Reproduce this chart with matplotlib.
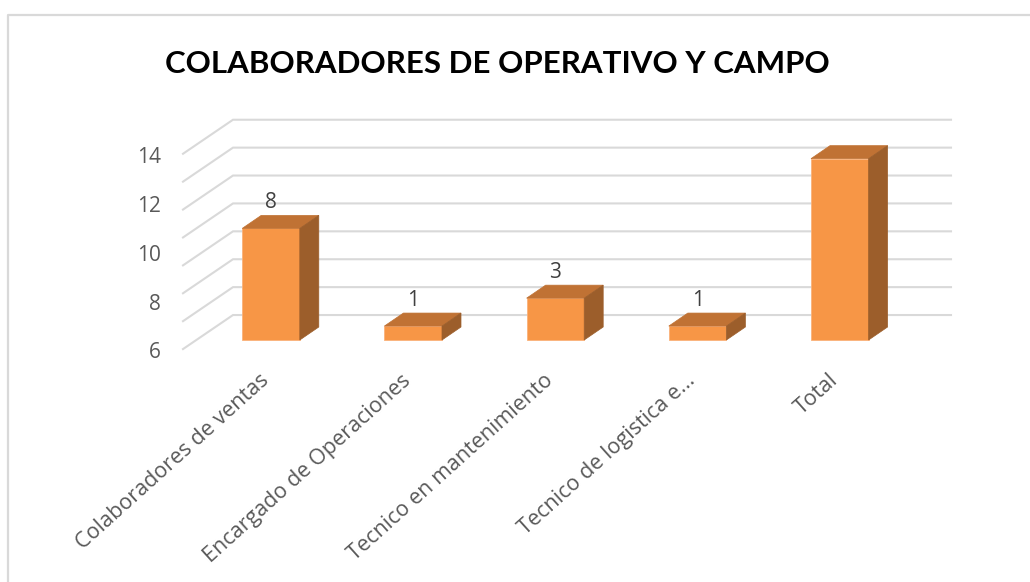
import matplotlib
matplotlib.use("Agg")
import matplotlib.pyplot as plt
from matplotlib.patches import Polygon

categories = ["Colaboradores de ventas", "Encargado de Operaciones",
              "Tecnico en mantenimiento", "Tecnico de logistica e...", "Total"]
values = [8, 1, 3, 1, 13]
shown_labels = ["8", "1", "3", "1", None]
tick_labels = [6, 8, 10, 12, 14]
grid_values = [0, 2, 4, 6, 8, 10, 12, 14]
title = "COLABORADORES DE OPERATIVO Y CAMPO"
caption = "Figura 8. Colaboradores de operativo y campo"

# pixel layout of the picture (x per category, y per unit)
W, H = 1030, 582
X0, XS = 271.0, 142.2      # px of first bar centre, px per category
Y0, YS = 340.0, 13.95      # px of bar base, px per unit


def px_x(p):
    return (p - X0) / XS


def px_y(p):
    return (Y0 - p) / YS


front = "#F79646"
top_c = "#C07234"
side_c = "#9C5E2B"
grid_c = "#D9D9D9"
txt_c = "#595959"

fig = plt.figure(figsize=(W / 100, H / 100), dpi=100)
ax = fig.add_axes([0, 0, 1, 1])
ax.set_xlim(px_x(0), px_x(W))
ax.set_ylim(px_y(H), px_y(0))
ax.axis("off")

# chart frame
ax.plot([px_x(8), px_x(8), px_x(W)], [px_y(H), px_y(15), px_y(15)],
        color="#D9D9D9", lw=1.6, solid_capstyle="butt")

# caption of the document, cut at the top of the picture (only descenders show)
ax.text(px_x(18), px_y(-5.5), caption, fontsize=21.5, family="Liberation Serif",
        fontweight="bold", ha="left", va="baseline", color="black")

# gridlines: floor diagonal + back wall
gx_front, gx_back, gx_end = px_x(183), px_x(233), px_x(951)
off_front, off_back = -0.65, 1.79
for g in grid_values:
    ax.plot([gx_front, gx_back, gx_end], [g + off_front, g + off_back, g + off_back],
            color=grid_c, lw=1.5, zorder=1, solid_joinstyle="miter")

# y tick labels (as placed in the picture)
for t in tick_labels:
    ax.text(px_x(161), -0.93 + (t - 6) * 1.755, str(t), ha="right", va="center",
            fontsize=15, family="Open Sans", color=txt_c)

# 3d bars
w = 0.405
dx, dy = 19 / XS, 13 / YS
xs = list(range(len(values)))
ax.bar(xs, values, width=w, color=front, edgecolor="#FAB27A", linewidth=0.6, zorder=3)
for x, v in zip(xs, values):
    l, r = x - w / 2, x + w / 2
    ax.add_patch(Polygon([(l, v), (r, v), (r + dx, v + dy), (l + dx, v + dy)],
                         closed=True, facecolor=top_c, edgecolor=top_c, lw=0.5, zorder=3))
    ax.add_patch(Polygon([(r, 0), (r + dx, dy), (r + dx, v + dy), (r, v)],
                         closed=True, facecolor=side_c, edgecolor=side_c, lw=0.5, zorder=3))

for x, v, lab in zip(xs, values, shown_labels):
    if lab:
        ax.text(x, v + dy + 0.15, lab, ha="center", va="bottom", fontsize=15,
                family="Open Sans", color="#404040", zorder=4)

# category labels
for x, c in zip(xs, categories):
    ax.text(x - 12 / XS, px_y(370), c, rotation=42, rotation_mode="anchor",
            ha="right", va="top", fontsize=15.5, family="Open Sans", color=txt_c)

ax.text(px_x(497), px_y(73), title, ha="center", va="baseline", fontsize=22.5,
        family="Lato", fontweight="bold", color="black")

fig.savefig("out.png", dpi=100)
